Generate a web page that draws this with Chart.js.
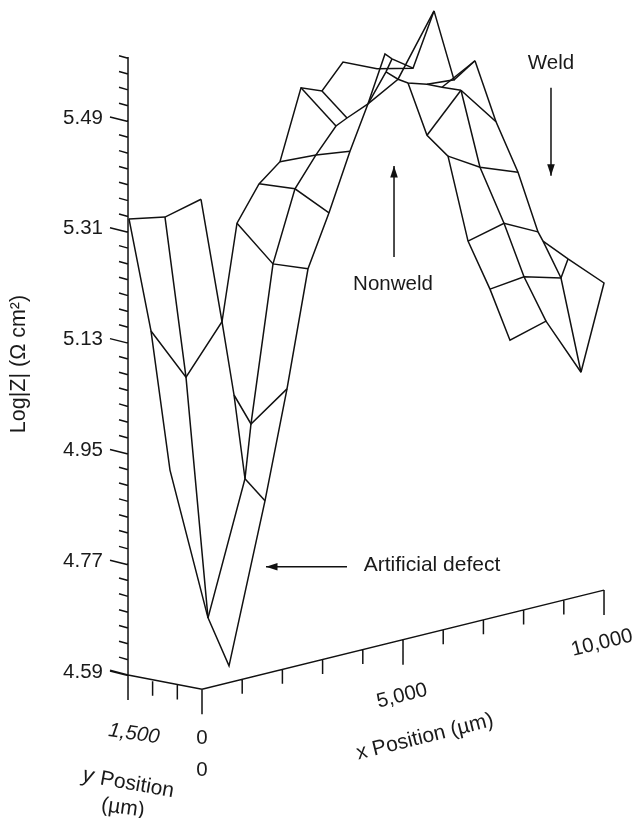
<!DOCTYPE html>
<html>
<head>
<meta charset="utf-8">
<style>html,body{margin:0;padding:0;background:#fff}canvas{display:block}</style>
<script src="https://cdn.jsdelivr.net/npm/chart.js@4/dist/chart.umd.min.js"></script>
</head>
<body>
<canvas id="c" width="636" height="818"></canvas>
<script>
// Mesh nodes: [projected horizontal position (um), Log|Z|]
const A=[-1810,5.326],B=[-918,5.329],C=[-25,5.358],D=[868,5.319],E=[1414,5.383],F=[1934,5.419],
G=[2455,5.539],H=[2976,5.534],I=[3497,5.581],J=[2306,5.375],K=[2827,5.430],L=[3323,5.477],
M=[3596,5.490],N=[4117,5.513],O=[3670,5.436],P=[3150,5.336],Q=[1761,5.253],R=[2629,5.245],
X=[4340,5.570],W=[5233,5.571],T=[5754,5.664],U=[4538,5.594],V=[4712,5.586],Y=[4563,5.565],
Z=[4861,5.553],AA=[5109,5.547],BB=[5580,5.545],CC=[5952,5.540],DD=[6423,5.535],EE=[6250,5.552],
FF=[6770,5.583],a1=[5580,5.462],a2=[6101,5.428],a3=[6894,5.410],a4=[7837,5.402],a5=[7291,5.484],
b1=[6597,5.290],b2=[7490,5.319],b3=[8333,5.305],b4=[8457,5.290],b5=[9077,5.261],b6=[9970,5.222],
c1=[7142,5.212],c2=[7986,5.232],c3=[8903,5.230],d1=[7638,5.129],d2=[8531,5.160],d3=[9399,5.077],
e1=[-1265,5.144],e2=[-397,5.069],e3=[496,5.159],e4=[-794,4.918],f1=[794,5.040],f2=[1215,4.993],
f3=[2108,5.050],g1=[1066,4.904],g2=[1562,4.868],h=[149,4.678],i=[670,4.600];

const meshLines=[
 [A,B,C],[A,e1,e4,h],[B,e2,h],[C,e3,f1,g1,h],
 [e1,e2,e3,D,E,F,G,H,I,X,W,T],
 [h,i,g2,f3,R,P,O,N,U,V,W],
 [g1,g2],[f1,f2,f3],[f2,g1],
 [f2,Q,J,K,L,M,N,Z,T],
 [D,Q,R],[E,J,P],[F,K,O],[G,L],[H,M],[N,Y,V],
 [Y,Z,AA,BB,EE,T],[EE,FF],[BB,CC,DD],[CC,FF],
 [AA,a1,a2,b1,c1,d1,d2,d3],[a1,DD],[a2,a3,a4],
 [DD,a3,b2,c2,d2],[DD,a5,a4,b3,b4,c3,d3],[FF,a5],
 [b1,b2,b3],[b4,b5,b6,d3],[b5,c3,c2,c1]
];

const logZTicks=[4.59,4.77,4.95,5.13,5.31,5.49];
const logZLabels=["4.59","4.77","4.95","5.13","5.31","5.49"];
const xTickFractions=[0,0.1,0.2,0.3,0.4,0.5,0.6,0.7,0.8,0.9,1];
const yDepthTicks=[[-1835,4.585,true],[-1225,4.575,false],[-612,4.569,false],[0,4.562,true]];

// Annotation arrows, [start, tip]
const arrowNonweld=[[4762,5.264],[4762,5.412]];
const arrowWeld=[[8655,5.539],[8655,5.396]];
const arrowDefect=[[3596,4.761],[1587,4.761]];

const GAP={x:NaN,y:NaN};
const pt=p=>({x:p[0],y:p[1]});
const frame=[];
// vertical axis and slanted ticks
frame.push(pt([-1835,5.589]),pt([-1835,4.545]),GAP);
for(let k=0;k<40;k++){
  const v=4.5843+k*0.18/7, major=k%7===0;
  frame.push(pt(major?[-2282,v+0.0073]:[-2058,v+0.0041]),pt([-1835,v]),GAP);
}
// front edges
frame.push(pt([-2282,4.593]),pt([-1835,4.585]),pt([0,4.562]),pt([9970,4.723]),GAP);
yDepthTicks.forEach(t=>frame.push(pt([t[0],t[1]]),pt([t[0],t[1]-(t[2]?0.0406:0.0235)]),GAP));
xTickFractions.forEach((f,n)=>{
  const x=9970*f, v=4.562+(4.723-4.562)*f, big=n%5===0;
  frame.push(pt([x,v]),pt([x,v-(big?0.0406:0.0235)]),GAP);
});

const INK="#111";
const lineSet=(pts,w)=>({data:pts,showLine:true,borderColor:INK,borderWidth:w,pointRadius:0,
  fill:false,tension:0,spanGaps:false,clip:false,borderJoinStyle:"miter"});
const datasets=[lineSet(frame,1.5)]
  .concat(meshLines.map(l=>lineSet(l.map(pt),1.5)))
  .concat([arrowNonweld,arrowWeld,arrowDefect].map(a=>lineSet(a.map(pt),1.5)));

const FONT='"Liberation Sans", Arial, sans-serif';
const texts=[
 {t:"Weld",x:551,y:63,r:0,s:20.5},
 {t:"Nonweld",x:393,y:284,r:0,s:20.5},
 {t:"Artificial defect",x:432,y:565,r:0,s:21},
 {t:"Log|Z| (\u03A9 cm\u00B2)",x:19,y:364,r:-90,s:21.5},
 {t:"5,000",x:402,y:696,r:-14,s:20.5},
 {t:"10,000",x:602,y:643,r:-14,s:20.5},
 {t:"x Position (\u00B5m)",x:425,y:737,r:-14,s:21},
 {t:"1,500",x:134,y:734,r:8,it:true,s:20.5},
 {t:"0",x:202,y:738,r:0,s:20.5},
 {t:"0",x:202,y:770,r:0,s:20.5},
 {t:"y",x:88,y:776,r:10,it:true,s:22},
 {t:"Position",x:137,y:785,r:10,s:21},
 {t:"(\u00B5m)",x:123,y:808,r:8,s:21}
];

const annotate={
  id:"annotate",
  afterDatasetsDraw(chart){
    const {ctx,scales:{x,y}}=chart;
    ctx.save();
    ctx.fillStyle=INK;
    [arrowNonweld,arrowWeld,arrowDefect].forEach(a=>{
      const x0=x.getPixelForValue(a[0][0]),y0=y.getPixelForValue(a[0][1]);
      const x1=x.getPixelForValue(a[1][0]),y1=y.getPixelForValue(a[1][1]);
      const ang=Math.atan2(y1-y0,x1-x0);
      ctx.save();ctx.translate(x1,y1);ctx.rotate(ang);
      ctx.beginPath();ctx.moveTo(0,0);ctx.lineTo(-11.5,-3.8);ctx.lineTo(-11.5,3.8);ctx.closePath();ctx.fill();
      ctx.restore();
    });
    ctx.textAlign="center";ctx.textBaseline="middle";
    ctx.fillStyle="#1a1a1a";
    texts.forEach(s=>{
      ctx.save();
      ctx.translate(s.x,s.y);ctx.rotate(s.r*Math.PI/180);
      ctx.font=(s.it?"italic ":"")+s.s+"px "+FONT;
      ctx.fillText(s.t,0,0);
      ctx.restore();
    });
    ctx.restore();
  }
};

new Chart(document.getElementById("c"),{
  type:"scatter",
  data:{datasets},
  plugins:[annotate],
  options:{
    responsive:false,animation:false,
    layout:{padding:0},
    plugins:{legend:{display:false},tooltip:{enabled:false},title:{display:false}},
    scales:{
      x:{type:"linear",display:false,min:-2405.6,max:10763.2},
      y:{type:"linear",min:4.3528,max:5.6817,
        grid:{display:false,drawTicks:false},border:{display:false},
        afterFit(s){s.width=105;s.paddingTop=0;s.paddingBottom=0;},
        afterBuildTicks(s){s.ticks=logZTicks.map(v=>({value:v}));},
        ticks:{padding:2,color:"#1a1a1a",font:{family:FONT,size:20.5},
          callback:(v)=>logZLabels[logZTicks.indexOf(v)]||""}
      }
    }
  }
});
</script>
</body>
</html>
